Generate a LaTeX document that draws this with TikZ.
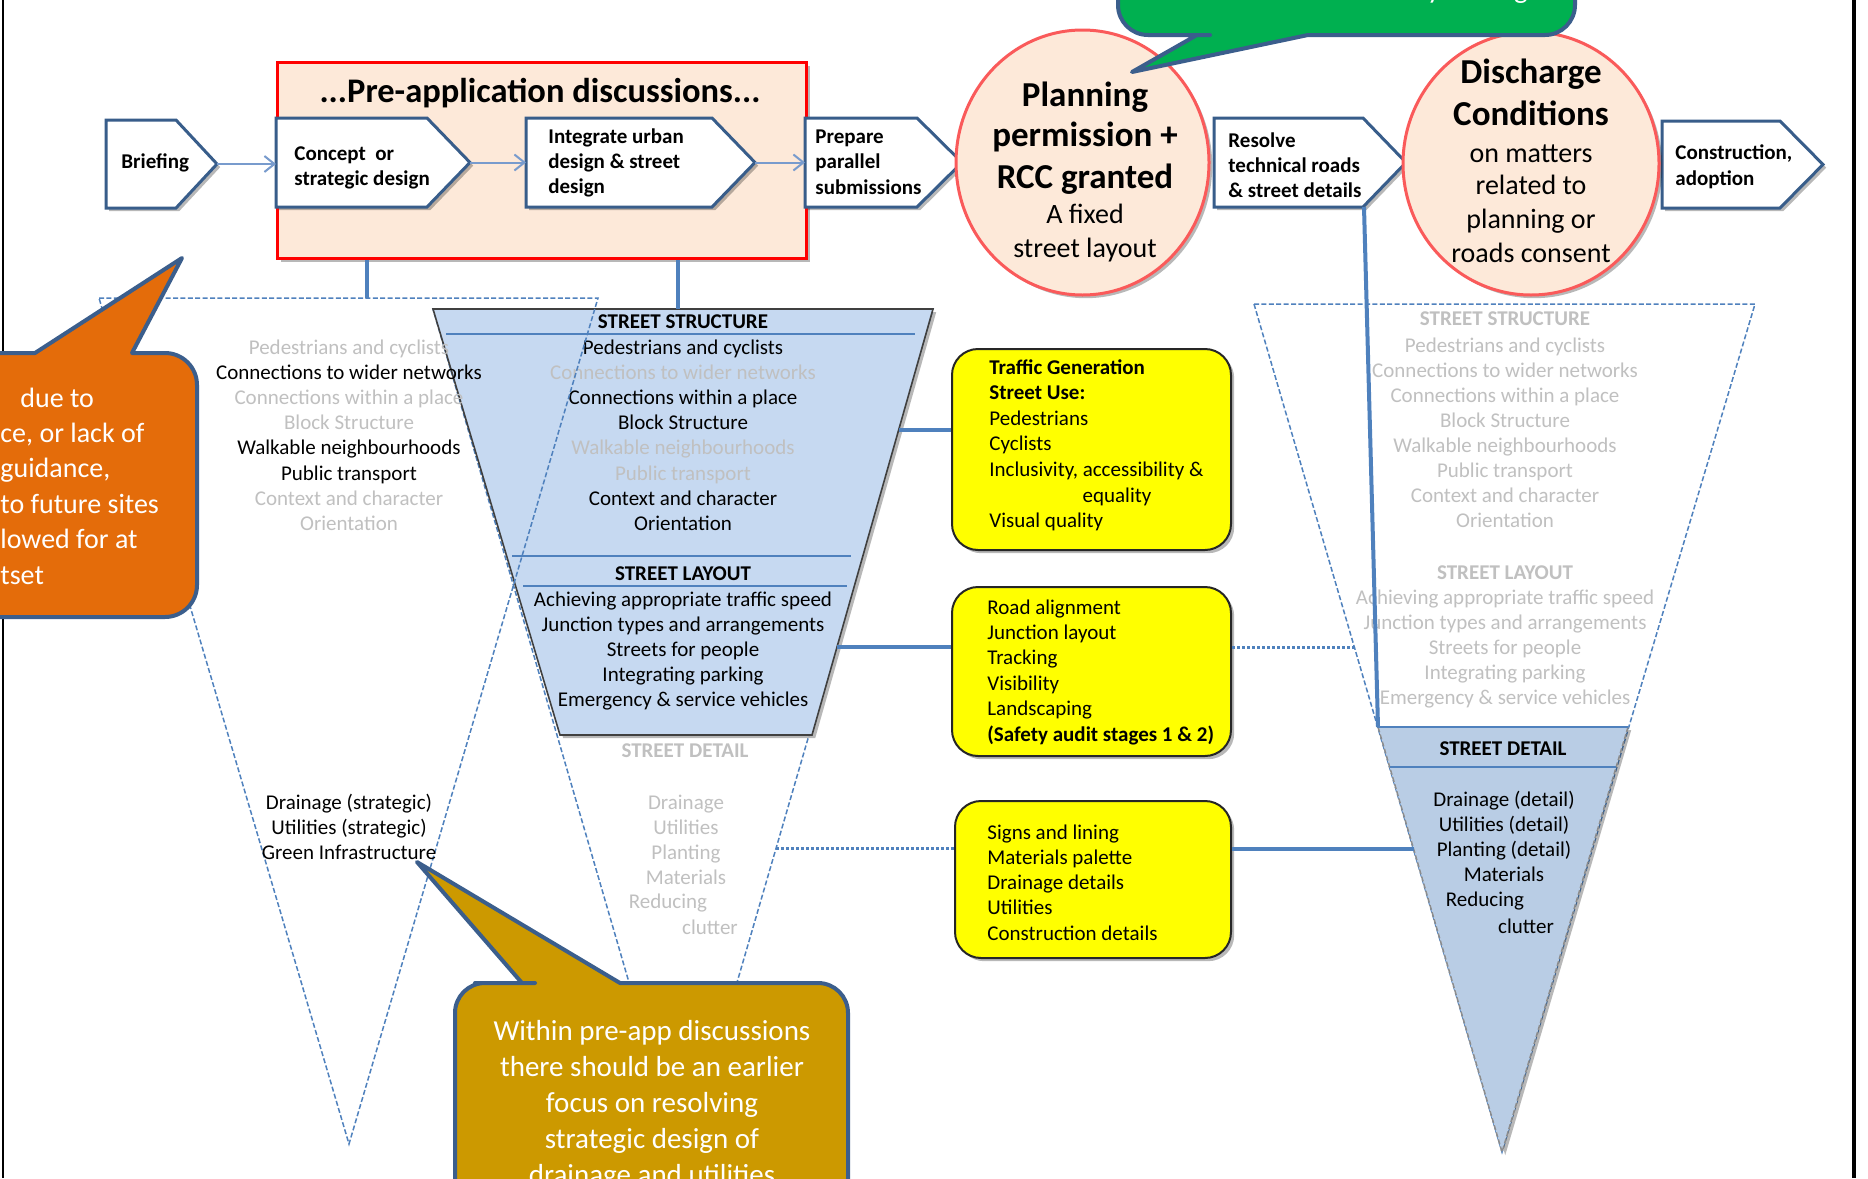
\documentclass[tikz,border=0pt]{standalone}
\usepackage{fontspec}
\setmainfont{Carlito}
\usetikzlibrary{shapes.geometric,shadows,calc,arrows.meta}
\definecolor{chevblue}{RGB}{56,93,138}
\definecolor{peach}{RGB}{253,233,217}
\definecolor{salmon}{RGB}{250,90,90}
\definecolor{linkblue}{RGB}{79,129,189}
\definecolor{lightarrow}{RGB}{120,155,205}
\definecolor{trapfill}{RGB}{198,217,241}
\definecolor{detfill}{RGB}{185,205,229}
\definecolor{ghost}{RGB}{192,192,192}
\definecolor{yel}{RGB}{255,255,0}
\definecolor{orangec}{RGB}{228,108,10}
\definecolor{goldc}{RGB}{204,153,0}
\definecolor{greenc}{RGB}{0,176,80}
\definecolor{callborder}{RGB}{59,94,140}
\newcommand\fsz[2]{\fontsize{#1}{#2}\selectfont}
\newcommand\gry{\color{ghost}}
\newcommand\tlines[6]{%
  \foreach \tlitem [count=\tidx from 0] in {#6}{%
    \node[#2] (#1\tidx) at (#3,{#4+#5*\tidx}) {\tlitem};
  }%
}
\begin{document}
\begin{tikzpicture}[x=0.5pt,y=-0.5pt,
  shadowed/.style={drop shadow={shadow xshift=1.6pt,shadow yshift=-1.6pt,opacity=0.28,fill=black}},
  chevron/.style={draw=chevblue,line width=1.5pt,fill=white,line join=miter,shadowed},
  chevtext/.style={font=\fsz{10.5pt}{12pt}\bfseries,inner sep=0pt,anchor=base west},
  flow/.style={draw=lightarrow,line width=1pt,-{Straight Barb[length=5pt,width=8pt,line width=1pt]}},
  conn/.style={draw=linkblue,line width=2pt},
  dotconn/.style={draw=linkblue,line width=1.5pt,dash pattern=on 1.5pt off 1pt},
  dashtri/.style={draw=linkblue,line width=0.75pt,dash pattern=on 2.5pt off 1.2pt},
  tri/.style={font=\fsz{10.5pt}{12pt},inner sep=0pt,anchor=base},
  trihead/.style={font=\fsz{10.5pt}{12pt}\bfseries,inner sep=0pt,anchor=base},
  ylw/.style={font=\fsz{10.5pt}{12pt},inner sep=0pt,anchor=base west},
  ybox/.style={draw=black!85,line width=1pt,fill=yel,rounded corners=13pt,shadowed,inner sep=0pt},
  bigb/.style={font=\fsz{17.5pt}{20pt}\bfseries,inner sep=0pt,anchor=base},
  bigr/.style={font=\fsz{14pt}{16pt},inner sep=0pt,anchor=base},
  circ/.style={ellipse,draw=salmon,line width=1.5pt,fill=peach,inner sep=0pt,shadowed},
  callout/.style={draw=callborder,line width=2pt,line join=round},
  calltext/.style={font=\fsz{14pt}{16pt},text=white,inner sep=0pt},
  thinline/.style={draw=linkblue,line width=0.8pt}
]
\useasboundingbox (0,0) rectangle (1868,1178);
\clip (0,0) rectangle (1868,1178);
\fill[white] (0,0) rectangle (1868,1178);

% frame lines
\coordinate (fL1) at (3,0); \coordinate (fL2) at (3,1178);
\draw[line width=1pt] (fL1) -- (fL2);
\coordinate (fR1) at (1854,0); \coordinate (fR2) at (1854,1178);
\draw[line width=2pt] (fR1) -- (fR2);

% ---------- centre triangle and trapezoid ----------
\coordinate (tz1) at (433,309); \coordinate (tz2) at (933,309);
\coordinate (tz3) at (812,735); \coordinate (tz4) at (560,735);
\coordinate (ctA) at (683,1168);
\draw[dashtri] (tz1) -- (tz2) -- (ctA) -- cycle;
\path[fill=trapfill,draw=black!75,line width=0.8pt,shadowed] (tz1) -- (tz2) -- (tz3) -- (tz4) -- cycle;
\draw[thinline] (446,334) -- (915,334);
\draw[thinline] (512,556) -- (851,556);
\draw[thinline] (523,586) -- (847,586);
\node[trihead] (cth1) at (683,328) {STREET STRUCTURE};
\tlines{cs}{tri}{683}{354}{25.2}{Pedestrians and cyclists,{\gry Connections to wider networks},Connections within a place,Block Structure,{\gry Walkable neighbourhoods},{\gry Public transport},Context and character,Orientation}
\node[trihead] (cth2) at (683,580) {STREET LAYOUT};
\tlines{cl}{tri}{683}{606}{25}{Achieving appropriate traffic speed,Junction types and arrangements,Streets for people,Integrating parking,Emergency \& service vehicles}
\node[trihead,text=ghost] (cth3) at (685,757) {STREET DETAIL};
\tlines{cd}{tri}{686}{809}{25}{{\gry Drainage},{\gry Utilities},{\gry Planting},{\gry Materials}}
\node[tri,text=ghost] (cd4) at (668,908) {Reducing};
\node[tri,text=ghost] (cd5) at (710,934) {clutter};

% ---------- left triangle ----------
\coordinate (lt1) at (99,298); \coordinate (lt2) at (598,298); \coordinate (ltA) at (349,1144);
\draw[dashtri] (lt1) -- (lt2) -- (ltA) -- cycle;
\tlines{ls}{tri}{349}{354}{25.2}{{\gry Pedestrians and cyclists},Connections to wider networks,{\gry Connections within a place},{\gry Block Structure},Walkable neighbourhoods,Public transport,{\gry Context and character},{\gry Orientation}}
\tlines{lb}{tri}{349}{809}{25}{Drainage (strategic),Utilities (strategic),Green Infrastructure}

% ---------- right triangle ----------
\coordinate (rt1) at (1254,304); \coordinate (rt2) at (1755,304); \coordinate (rtA) at (1502,1152);
\draw[dashtri] (rt1) -- (rt2) -- (rtA) -- cycle;
\coordinate (dt1) at (1378,727); \coordinate (dt2) at (1628,727);
\path[fill=detfill,shadowed] (dt1) -- (dt2) -- (rtA) -- cycle;
\draw[dashtri,draw=black!45] (dt2) -- (rtA) -- (dt1);
\draw[thinline] (dt1) -- (dt2);
\draw[thinline] ($(dt1)!0.094!(rtA)$) -- ($(dt2)!0.094!(rtA)$);
\node[trihead,text=ghost] (rth1) at (1505,325) {STREET STRUCTURE};
\tlines{rs}{tri,text=ghost}{1505}{352}{25.1}{Pedestrians and cyclists,Connections to wider networks,Connections within a place,Block Structure,Walkable neighbourhoods,Public transport,Context and character,Orientation}
\node[trihead,text=ghost] (rth2) at (1505,579) {STREET LAYOUT};
\tlines{rl}{tri,text=ghost}{1505}{604}{25}{Achieving appropriate traffic speed,Junction types and arrangements,Streets for people,Integrating parking,Emergency \& service vehicles}
\node[trihead] (rth3) at (1503,755) {STREET DETAIL};
\tlines{rd}{tri}{1504}{806}{25.1}{Drainage (detail),Utilities (detail),Planting (detail),Materials}
\node[tri] (rd4) at (1485,906) {Reducing};
\node[tri] (rd5) at (1526,933) {clutter};

% ---------- top flow ----------
\node[draw=red,line width=1.5pt,fill=peach,minimum width=264.5pt,minimum height=98pt,anchor=north west,inner sep=0pt,shadowed] (preapp) at (276,61) {};
\node[font=\fsz{17.25pt}{20pt}\bfseries,inner sep=0pt,anchor=base] (title) at (540,102) {...Pre-application discussions...};

\path[chevron] (106,120) -- (176,120) -- (217,164) -- (176,208) -- (106,208) -- cycle;
\coordinate (brief-e) at (217,164);
\node[chevtext] (brief) at (121,168) {Briefing};

\path[chevron] (276,118) -- (427,118) -- (470,162.5) -- (427,207) -- (276,207) -- cycle;
\coordinate (concept-w) at (276,164); \coordinate (concept-e) at (470,162.5);
\tlines{concept}{chevtext}{294}{160}{25.5}{Concept\ \ or,strategic design}

\path[chevron] (526,118) -- (712,118) -- (755,162.5) -- (712,207) -- (526,207) -- cycle;
\coordinate (integ-w) at (526,162.5); \coordinate (integ-e) at (755,162.5);
\tlines{integ}{chevtext}{548}{143}{25}{Integrate urban,design \& street,design}

\path[chevron] (805,118) -- (917,118) -- (962,162.5) -- (917,207) -- (805,207) -- cycle;
\coordinate (prep-w) at (805,162.5);
\tlines{prep}{chevtext}{815}{143}{25.5}{Prepare,parallel,submissions}

\path[chevron] (1214,118) -- (1363,118) -- (1406,162.5) -- (1363,207) -- (1214,207) -- cycle;
\coordinate (resolve-sb) at (1364,207);
\tlines{resolve}{chevtext}{1228}{147}{25}{Resolve,technical roads,\& street details}

\path[chevron] (1662,121) -- (1780,121) -- (1823,164.5) -- (1780,208) -- (1662,208) -- cycle;
\tlines{constr}{chevtext}{1675}{159}{26}{{Construction,},adoption}

\draw[flow] (brief-e) -- (concept-w);
\draw[flow] (concept-e) -- (integ-w);
\draw[flow] (integ-e) -- (prep-w);

% circles
\node[circ,minimum width=126.5pt,minimum height=132.5pt] (plan) at (1082.5,162.5) {};
\node[bigb] (plan1) at (1085,106) {Planning};
\node[bigb] (plan2) at (1085,146) {permission +};
\node[bigb] (plan3) at (1085,188) {RCC granted};
\node[bigr] (plan4) at (1085,223) {A fixed};
\node[bigr] (plan5) at (1085,257) {street layout};

\node[circ,minimum width=128pt,minimum height=131.5pt] (disch) at (1531,163.5) {};
\node[bigb] (dis1) at (1531,83) {Discharge};
\node[bigb] (dis2) at (1531,125) {Conditions};
\node[bigr] (dis3) at (1531,162) {on matters};
\node[bigr] (dis4) at (1531,194) {related to};
\node[bigr] (dis5) at (1531,228) {planning or};
\node[bigr] (dis6) at (1531,262) {roads consent};

% vertical connectors
\coordinate (ltTop) at (367,298);
\draw[conn] (preapp.south -| ltTop) -- (ltTop);
\coordinate (ctTop) at (678,309);
\draw[conn] (preapp.south -| ctTop) -- (ctTop);
\draw[conn] (resolve-sb) -- (dt1);

% ---------- yellow boxes ----------
\node[ybox,minimum width=139.5pt,minimum height=100.5pt] (boxA) at (1091.5,449.5) {};
\node[ybox,minimum width=139.5pt,minimum height=84.5pt] (boxB) at (1091.5,671.5) {};
\node[ybox,minimum width=138pt,minimum height=78.5pt] (boxC) at (1093,879.5) {};

\tlines{ya}{ylw}{989}{374}{25.6}{{\bfseries Traffic Generation},{\bfseries Street Use:},Pedestrians,Cyclists,{Inclusivity, accessibility \&}}
\node[tri] (ya5) at (1117,502) {equality};
\node[ylw] (ya6) at (989,527) {Visual quality};
\tlines{yb}{ylw}{987}{614}{25.4}{Road alignment,Junction layout,Tracking,Visibility,Landscaping,{\bfseries (Safety audit stages 1 \& 2)}}
\tlines{yc}{ylw}{987}{839}{25.3}{Signs and lining,Materials palette,Drainage details,Utilities,Construction details}

\coordinate (cA) at ($(tz2)!0.284!(tz3)$);
\draw[conn] (cA) -- (cA -| boxA.west);
\coordinate (cB) at ($(tz2)!0.7934!(tz3)$);
\draw[conn] (cB) -- (cB -| boxB.west);
\coordinate (dB) at ($(rt1)!0.4045!(rtA)$);
\draw[dotconn] (dB -| boxB.east) -- (dB);
\coordinate (dC) at ($(tz2)!0.6286!(ctA)$);
\draw[dotconn] (dC) -- (dC -| boxC.west);
\coordinate (sC) at ($(dt1)!0.287!(rtA)$);
\draw[conn] (sC -| boxC.east) -- (sC);

% ---------- callouts ----------
% orange
\path[callout,fill=orangec] (-60,617) -- (-60,353) -- (35,353) -- (182,258) -- (132,353) -- (142,353)
  [rounded corners=16pt] -- (197,353) -- (197,617) -- (100,617) [sharp corners] -- cycle;
\node[calltext,anchor=base west] (or1) at (20,407) {due to};
\tlines{or}{calltext,anchor=base west}{0}{442}{35.5}{{ce, or lack of},{guidance,},to future sites,lowed for at,tset}

% gold
\path[callout,fill=goldc] (455,1260) [rounded corners=15pt] -- (455,983) -- (505,983) [sharp corners] -- (522,983) -- (417,862) -- (620,983) -- (640,983)
  [rounded corners=15pt] -- (848,983) -- (848,1260) [sharp corners] -- cycle;
\tlines{gd}{calltext,font=\fsz{14.5pt}{16pt},anchor=base}{652}{1040}{36}{Within pre-app discussions,there should be an earlier,focus on resolving,strategic design of,drainage and utilities}

% green
\path[callout,fill=greenc] (1118,-60) [rounded corners=15pt] -- (1118,35) -- (1180,35) [sharp corners] -- (1197,35) -- (1132,72) -- (1308,35) -- (1325,35)
  [rounded corners=15pt] -- (1575,35) -- (1575,-60) [sharp corners] -- cycle;
\node[calltext,font=\fsz{14.5pt}{16pt},anchor=base] (gr1) at (1434,-2) {y};
\node[calltext,font=\fsz{14.5pt}{16pt},anchor=base] (gr2) at (1521,-2) {g};
\end{tikzpicture}
\end{document}
